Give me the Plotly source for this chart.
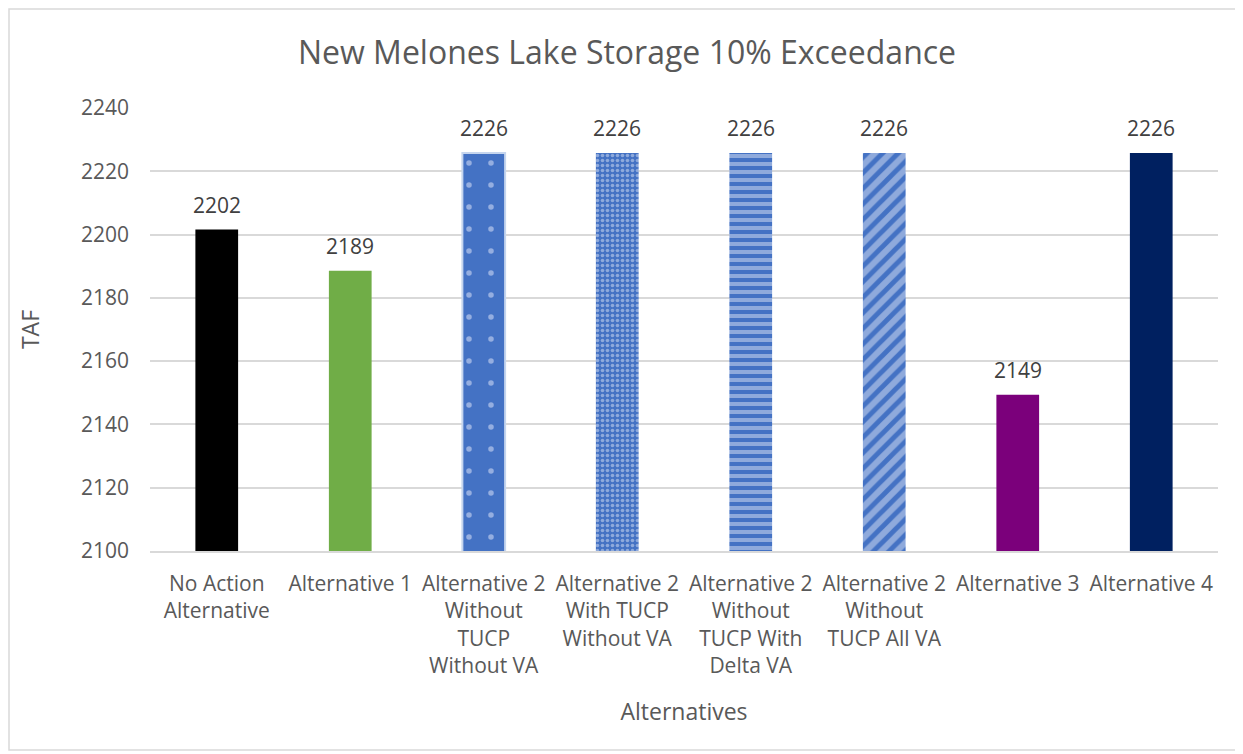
import plotly.graph_objects as go

categories = [
    "No Action<br>Alternative",
    "Alternative 1",
    "Alternative 2<br>Without<br>TUCP<br>Without VA",
    "Alternative 2<br>With TUCP<br>Without VA",
    "Alternative 2<br>Without<br>TUCP With<br>Delta VA",
    "Alternative 2<br>Without<br>TUCP All VA",
    "Alternative 3",
    "Alternative 4",
]
values = [2201.6, 2188.6, 2225.8, 2225.8, 2225.8, 2225.8, 2149.4, 2225.8]
labels = ["2202", "2189", "2226", "2226", "2226", "2226", "2149", "2226"]

colors = ["#000000", "#70AD47", "#4472C4", "#4472C4", "#8FAADC", "#8FAADC", "#7B007B", "#002060"]
pat_shapes = ["", "", ".", ".", "-", "/", "", ""]
pat_fg = ["#000000", "#70AD47", "#95AEE0", "#8FAADC", "#4472C4", "#4472C4", "#7B007B", "#002060"]
pat_size = [8, 8, 22, 5, 8, 11, 8, 8]
pat_solid = [0.3, 0.3, 0.05, 0.4, 0.5, 0.45, 0.3, 0.3]
line_colors = ["rgba(0,0,0,0)", "rgba(0,0,0,0)", "#C5D5EE", "rgba(0,0,0,0)",
               "rgba(0,0,0,0)", "rgba(0,0,0,0)", "rgba(0,0,0,0)", "rgba(0,0,0,0)"]
line_widths = [0, 0, 2, 0, 0, 0, 0, 0]

FONT = "Open Sans"
GREY = "#595959"
OFF = 8  # page body margin offset

fig = go.Figure()
for i, cat in enumerate(categories):
    fig.add_trace(go.Bar(
        x=[cat], y=[values[i]],
        width=0.32,
        marker=dict(
            color=colors[i],
            line=dict(color=line_colors[i], width=line_widths[i]),
            pattern=dict(shape=pat_shapes[i], fgcolor=pat_fg[i],
                         size=pat_size[i], solidity=pat_solid[i], fillmode="overlay",
                         fgopacity=1),
        ),
        showlegend=False,
        hoverinfo="x+y",
    ))
    fig.add_annotation(x=cat, y=values[i], text=labels[i], showarrow=False,
                       yanchor="middle", yshift=25,
                       font=dict(family=FONT, size=21, color="#404040"))

W, H = 1243 - OFF, 754 - OFF
L, T = 150 - OFF, 108 - OFF
PW, PH = 1068, 443

fig.update_layout(
    width=W, height=H,
    paper_bgcolor="white", plot_bgcolor="white",
    barmode="overlay",
    margin=dict(l=L, r=W - L - PW, t=T, b=H - T - PH),
    font=dict(family=FONT, color=GREY),
    title=dict(text="New Melones Lake Storage 10% Exceedance",
               font=dict(family=FONT, size=32, color=GREY),
               x=(627 - OFF) / W, xanchor="center", y=1 - (53 - OFF) / H, yanchor="middle"),
)

fig.update_yaxes(
    range=[2100, 2240], dtick=20, tick0=2100,
    showgrid=True, gridcolor="#D9D9D9", gridwidth=1.5,
    zeroline=False, showline=False,
    tickfont=dict(family=FONT, size=21, color=GREY),
    ticklabelstandoff=20,
    title=dict(text="TAF", font=dict(family=FONT, size=23, color=GREY), standoff=34),
)
fig.update_xaxes(
    showline=True, linecolor="#D9D9D9", linewidth=1.5,
    tickfont=dict(family=FONT, size=21, color=GREY),
    ticklabelstandoff=13, tickangle=0,
    title=dict(text="Alternatives", font=dict(family=FONT, size=23, color=GREY), standoff=26),
)

fig.add_shape(type="rect", xref="paper", yref="paper",
              x0=(9 - 150) / PW, x1=(1240 - 150) / PW,
              y0=(551 - 750) / PH, y1=(551 - 9) / PH,
              line=dict(color="#D9D9D9", width=1.5), fillcolor="rgba(0,0,0,0)", layer="below")

fig.write_html("out.html")
